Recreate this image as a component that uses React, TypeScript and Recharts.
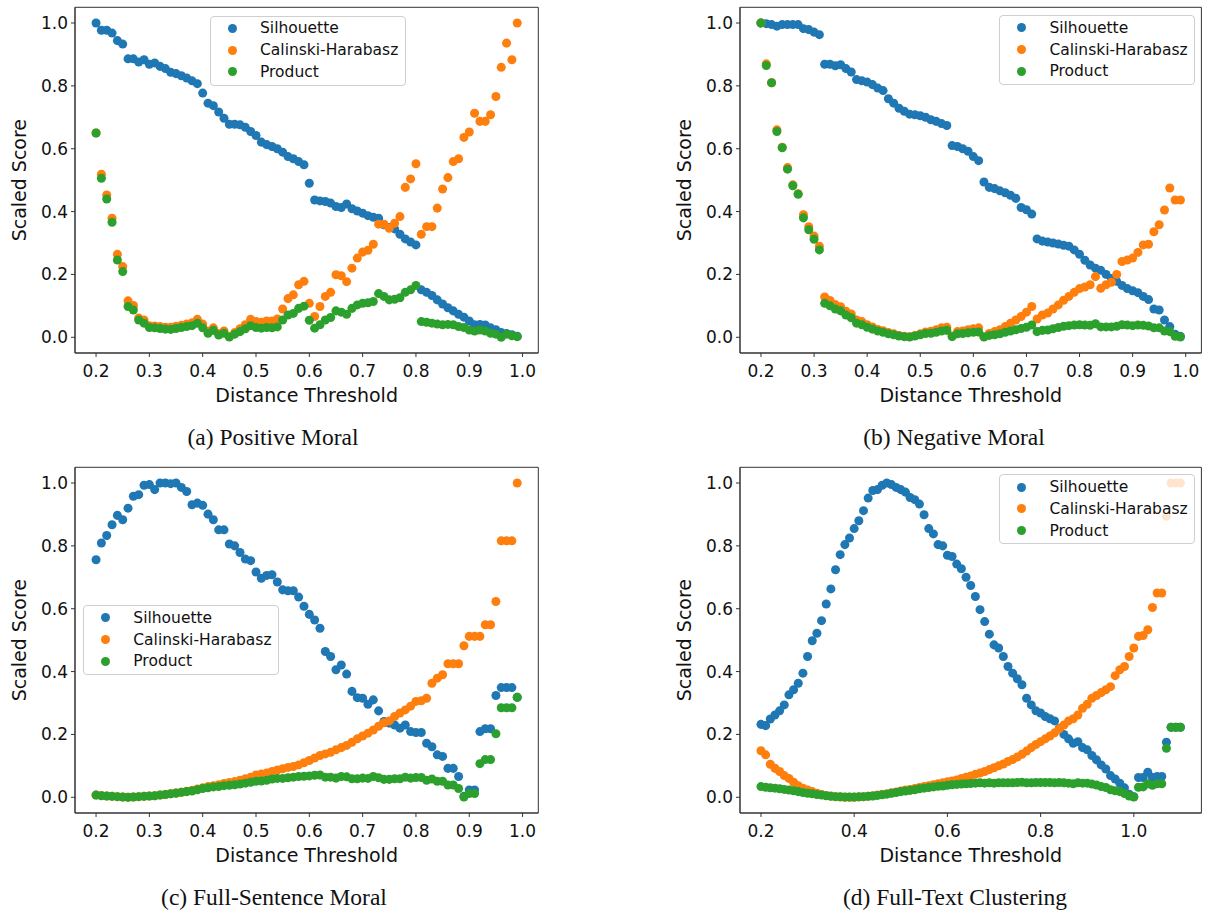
import React from "react";
import { ScatterChart, Scatter, XAxis, YAxis, ZAxis, Legend, ReferenceArea } from "recharts";

// distance thresholds (x values)
const THRESH = [
  0.2, 0.21, 0.22, 0.23, 0.24, 0.25, 0.26, 0.27, 0.28, 0.29,
  0.3, 0.31, 0.32, 0.33, 0.34, 0.35, 0.36, 0.37, 0.38, 0.39,
  0.4, 0.41, 0.42, 0.43, 0.44, 0.45, 0.46, 0.47, 0.48, 0.49,
  0.5, 0.51, 0.52, 0.53, 0.54, 0.55, 0.56, 0.57, 0.58, 0.59,
  0.6, 0.61, 0.62, 0.63, 0.64, 0.65, 0.66, 0.67, 0.68, 0.69,
  0.7, 0.71, 0.72, 0.73, 0.74, 0.75, 0.76, 0.77, 0.78, 0.79,
  0.8, 0.81, 0.82, 0.83, 0.84, 0.85, 0.86, 0.87, 0.88, 0.89,
  0.9, 0.91, 0.92, 0.93, 0.94, 0.95, 0.96, 0.97, 0.98, 0.99,
];
const THRESH_TEXT = [
  0.2, 0.21, 0.22, 0.23, 0.24, 0.25, 0.26, 0.27, 0.28, 0.29,
  0.3, 0.31, 0.32, 0.33, 0.34, 0.35, 0.36, 0.37, 0.38, 0.39,
  0.4, 0.41, 0.42, 0.43, 0.44, 0.45, 0.46, 0.47, 0.48, 0.49,
  0.5, 0.51, 0.52, 0.53, 0.54, 0.55, 0.56, 0.57, 0.58, 0.59,
  0.6, 0.61, 0.62, 0.63, 0.64, 0.65, 0.66, 0.67, 0.68, 0.69,
  0.7, 0.71, 0.72, 0.73, 0.74, 0.75, 0.76, 0.77, 0.78, 0.79,
  0.8, 0.81, 0.82, 0.83, 0.84, 0.85, 0.86, 0.87, 0.88, 0.89,
  0.9, 0.91, 0.92, 0.93, 0.94, 0.95, 0.96, 0.97, 0.98, 0.99,
  1.0, 1.01, 1.02, 1.03, 1.04, 1.05, 1.06, 1.07, 1.08, 1.09,
  1.1,
];

const TICKS_X = [0.2, 0.3, 0.4, 0.5, 0.6, 0.7, 0.8, 0.9, 1.0];
const TICKS_X_TEXT = [0.2, 0.4, 0.6, 0.8, 1.0];
const TICKS_Y = [0, 0.2, 0.4, 0.6, 0.8, 1.0];

const SERIES = ["Silhouette", "Calinski-Harabasz", "Product"];
const COLORS = ["#1f77b4", "#ff7f0e", "#2ca02c"];

// (a) Positive Moral
const SIL_A = [
  1.0, 0.977, 0.977, 0.968, 0.944, 0.933, 0.886, 0.886, 0.876, 0.883,
  0.869, 0.873, 0.862, 0.855, 0.843, 0.839, 0.832, 0.825, 0.816, 0.807,
  0.777, 0.745, 0.737, 0.717, 0.697, 0.678, 0.678, 0.676, 0.668, 0.655,
  0.642, 0.621, 0.613, 0.607, 0.6, 0.589, 0.575, 0.568, 0.559, 0.549,
  0.49, 0.437, 0.434, 0.432, 0.427, 0.416, 0.413, 0.424, 0.409, 0.402,
  0.395, 0.387, 0.382, 0.379, 0.358, 0.349, 0.345, 0.328, 0.313, 0.303,
  0.294, 0.151, 0.143, 0.133, 0.119, 0.106, 0.094, 0.084, 0.073, 0.064,
  0.052, 0.04, 0.041, 0.039, 0.03, 0.024, 0.015, 0.012, 0.008, 0.003,
];
const CH_A = [
  0.65, 0.519, 0.453, 0.379, 0.264, 0.225, 0.116, 0.101, 0.061, 0.055,
  0.037, 0.036, 0.034, 0.032, 0.032, 0.035, 0.038, 0.042, 0.046, 0.057,
  0.042, 0.02, 0.03, 0.012, 0.02, 0.002, 0.015, 0.027, 0.04, 0.057,
  0.05, 0.048, 0.052, 0.052, 0.058, 0.09, 0.123, 0.135, 0.167, 0.178,
  0.108, 0.066, 0.098, 0.13, 0.143, 0.199, 0.196, 0.177, 0.22, 0.252,
  0.271, 0.277, 0.296, 0.36, 0.36, 0.347, 0.363, 0.384, 0.477, 0.504,
  0.552, 0.328, 0.352, 0.352, 0.411, 0.472, 0.508, 0.559, 0.568, 0.636,
  0.653, 0.713, 0.687, 0.687, 0.708, 0.766, 0.859, 0.936, 0.883, 1.0,
];
const PROD_A = [
  0.65, 0.506, 0.44, 0.366, 0.246, 0.209, 0.098, 0.087, 0.055, 0.045,
  0.031, 0.03, 0.028, 0.026, 0.025, 0.028, 0.031, 0.034, 0.037, 0.045,
  0.03, 0.013, 0.022, 0.007, 0.013, 0.001, 0.01, 0.018, 0.027, 0.037,
  0.031, 0.029, 0.031, 0.03, 0.033, 0.055, 0.071, 0.076, 0.092, 0.099,
  0.054, 0.029, 0.04, 0.055, 0.063, 0.084, 0.08, 0.073, 0.092, 0.103,
  0.108, 0.11, 0.114, 0.139, 0.13, 0.119, 0.121, 0.126, 0.143, 0.151,
  0.165, 0.05, 0.048, 0.045, 0.042, 0.04, 0.041, 0.04, 0.034, 0.031,
  0.023, 0.02, 0.023, 0.02, 0.013, 0.01, 0.0, 0.01, 0.005, 0.002,
];

// (b) Negative Moral
const SIL_B = [
  1.0, 0.998, 0.995, 0.99, 0.995, 0.995, 0.995, 0.995, 0.982, 0.979,
  0.971, 0.963, 0.869, 0.869, 0.864, 0.867, 0.855, 0.844, 0.82, 0.816,
  0.812, 0.804, 0.793, 0.785, 0.759, 0.745, 0.729, 0.719, 0.71, 0.708,
  0.705, 0.7, 0.692, 0.687, 0.68, 0.674, 0.61, 0.607, 0.6, 0.592,
  0.575, 0.562, 0.494, 0.477, 0.473, 0.466, 0.46, 0.452, 0.442, 0.413,
  0.406, 0.392, 0.313, 0.306, 0.303, 0.3, 0.297, 0.293, 0.29, 0.278,
  0.264, 0.245, 0.23, 0.22, 0.213, 0.2, 0.187, 0.178, 0.165, 0.155,
  0.148, 0.142, 0.13, 0.12, 0.09, 0.087, 0.055, 0.034, 0.01, 0.003,
];
const CH_B = [
  1.0, 0.87, 0.81, 0.66, 0.605, 0.54, 0.485, 0.457, 0.39, 0.352,
  0.322, 0.29, 0.128, 0.117, 0.104, 0.097, 0.083, 0.074, 0.055, 0.05,
  0.04, 0.033, 0.025, 0.021, 0.015, 0.011, 0.006, 0.003, 0.002, 0.006,
  0.011, 0.017, 0.019, 0.024, 0.03, 0.032, 0.004, 0.018, 0.02, 0.024,
  0.027, 0.03, 0.002, 0.012, 0.018, 0.024, 0.034, 0.045, 0.055, 0.066,
  0.08, 0.098, 0.058, 0.071, 0.077, 0.09, 0.103, 0.118, 0.13, 0.143,
  0.155, 0.16, 0.167, 0.193, 0.156, 0.167, 0.175, 0.2, 0.241, 0.246,
  0.252, 0.27, 0.294, 0.296, 0.336, 0.358, 0.405, 0.475, 0.437, 0.437,
];
const PROD_B = [
  1.0, 0.865, 0.81, 0.655, 0.603, 0.535, 0.482, 0.455, 0.38, 0.342,
  0.312, 0.278, 0.108, 0.1, 0.09, 0.084, 0.071, 0.062, 0.045, 0.04,
  0.032, 0.026, 0.02, 0.016, 0.011, 0.008, 0.004, 0.002, 0.001, 0.004,
  0.008, 0.012, 0.013, 0.016, 0.02, 0.022, 0.002, 0.011, 0.012, 0.014,
  0.016, 0.017, 0.001, 0.006, 0.008, 0.011, 0.016, 0.02, 0.024, 0.028,
  0.032, 0.039, 0.018, 0.022, 0.023, 0.027, 0.031, 0.035, 0.037, 0.039,
  0.04, 0.039, 0.038, 0.043, 0.033, 0.033, 0.033, 0.035, 0.04, 0.039,
  0.037, 0.039, 0.038, 0.036, 0.03, 0.03, 0.02, 0.018, 0.003, 0.001,
];

// (c) Full-Sentence Moral
const SIL_C = [
  0.756, 0.809, 0.833, 0.867, 0.897, 0.883, 0.92, 0.958, 0.963, 0.993,
  0.995, 0.979, 1.0, 1.0, 0.998, 1.0, 0.986, 0.973, 0.931, 0.936,
  0.929, 0.901, 0.883, 0.851, 0.851, 0.806, 0.8, 0.779, 0.758, 0.753,
  0.717, 0.697, 0.706, 0.708, 0.685, 0.66, 0.657, 0.657, 0.637, 0.608,
  0.582, 0.564, 0.538, 0.464, 0.448, 0.406, 0.421, 0.392, 0.337, 0.317,
  0.315, 0.296, 0.31, 0.275, 0.241, 0.236, 0.23, 0.22, 0.23, 0.209,
  0.206, 0.206, 0.172, 0.161, 0.135, 0.13, 0.092, 0.092, 0.066, 0.003,
  0.023, 0.023, 0.209, 0.218, 0.218, 0.324, 0.349, 0.349, 0.349, 0.318,
];
const CH_C = [
  0.007, 0.006, 0.004, 0.003, 0.002, 0.001, 0.0, 0.001, 0.002, 0.003,
  0.004, 0.005, 0.007, 0.009, 0.011, 0.014, 0.016, 0.019, 0.022, 0.026,
  0.03, 0.034, 0.037, 0.04, 0.044, 0.047, 0.05, 0.054, 0.059, 0.064,
  0.071, 0.074, 0.077, 0.082, 0.087, 0.091, 0.095, 0.098, 0.103, 0.11,
  0.117, 0.125, 0.133, 0.138, 0.143, 0.151, 0.158, 0.165, 0.175, 0.186,
  0.195, 0.204, 0.214, 0.226, 0.237, 0.243, 0.257, 0.268, 0.278, 0.29,
  0.305, 0.307, 0.315, 0.363, 0.379, 0.39, 0.425, 0.425, 0.425, 0.482,
  0.512, 0.512, 0.512, 0.549, 0.549, 0.623, 0.816, 0.816, 0.816, 1.0,
];
const PROD_C = [
  0.007, 0.005, 0.004, 0.003, 0.002, 0.001, 0.0, 0.001, 0.002, 0.003,
  0.004, 0.005, 0.007, 0.009, 0.011, 0.013, 0.016, 0.018, 0.02, 0.024,
  0.028, 0.03, 0.033, 0.034, 0.037, 0.038, 0.04, 0.042, 0.045, 0.048,
  0.051, 0.052, 0.054, 0.058, 0.06, 0.06, 0.062, 0.064, 0.066, 0.067,
  0.068, 0.07, 0.071, 0.064, 0.064, 0.061, 0.066, 0.065, 0.059, 0.059,
  0.061, 0.06, 0.066, 0.062, 0.057, 0.057, 0.059, 0.059, 0.064, 0.061,
  0.063, 0.063, 0.054, 0.058, 0.051, 0.051, 0.039, 0.039, 0.028, 0.001,
  0.012, 0.012, 0.107, 0.12, 0.12, 0.202, 0.285, 0.285, 0.285, 0.318,
];

// (d) Full-Text Clustering
const SIL_D = [
  0.232, 0.228, 0.249, 0.262, 0.275, 0.294, 0.326, 0.342, 0.363, 0.395,
  0.448, 0.498, 0.522, 0.562, 0.615, 0.663, 0.724, 0.772, 0.804, 0.825,
  0.855, 0.88, 0.912, 0.952, 0.976, 0.979, 0.993, 1.0, 0.995, 0.986,
  0.979, 0.971, 0.954, 0.947, 0.933, 0.899, 0.855, 0.838, 0.804, 0.8,
  0.77, 0.766, 0.742, 0.727, 0.7, 0.674, 0.639, 0.597, 0.559, 0.519,
  0.485, 0.475, 0.448, 0.416, 0.395, 0.377, 0.358, 0.315, 0.294, 0.275,
  0.268, 0.257, 0.25, 0.243, 0.22, 0.2, 0.186, 0.172, 0.177, 0.158,
  0.151, 0.133, 0.119, 0.103, 0.09, 0.069, 0.058, 0.045, 0.03, 0.01,
  0.002, 0.063, 0.063, 0.08, 0.063, 0.066, 0.066, 0.175, 0.223, 0.223,
  0.223,
];
const CH_D = [
  0.148, 0.135, 0.105, 0.092, 0.082, 0.069, 0.06, 0.048, 0.037, 0.029,
  0.023, 0.018, 0.013, 0.009, 0.006, 0.004, 0.002, 0.001, 0.0, 0.0,
  0.0, 0.001, 0.002, 0.003, 0.005, 0.007, 0.009, 0.011, 0.014, 0.017,
  0.02, 0.023, 0.025, 0.028, 0.031, 0.034, 0.037, 0.04, 0.043, 0.046,
  0.049, 0.052, 0.055, 0.06, 0.064, 0.068, 0.073, 0.077, 0.082, 0.088,
  0.094, 0.1, 0.106, 0.114, 0.12, 0.128, 0.137, 0.147, 0.158, 0.168,
  0.177, 0.186, 0.195, 0.205, 0.218, 0.23, 0.243, 0.25, 0.262, 0.283,
  0.296, 0.315, 0.324, 0.333, 0.342, 0.352, 0.387, 0.406, 0.416, 0.448,
  0.475, 0.512, 0.515, 0.533, 0.604, 0.65, 0.65, 0.894, 1.0, 1.0,
  1.0,
];
const PROD_D = [
  0.034, 0.032, 0.03, 0.029, 0.027, 0.025, 0.023, 0.021, 0.018, 0.015,
  0.013, 0.011, 0.009, 0.007, 0.005, 0.003, 0.002, 0.002, 0.001, 0.001,
  0.001, 0.002, 0.002, 0.003, 0.004, 0.006, 0.008, 0.01, 0.013, 0.015,
  0.018, 0.02, 0.022, 0.024, 0.027, 0.029, 0.031, 0.033, 0.035, 0.036,
  0.038, 0.04, 0.041, 0.042, 0.043, 0.044, 0.045, 0.046, 0.045, 0.046,
  0.045, 0.046, 0.046, 0.046, 0.046, 0.047, 0.048, 0.046, 0.046, 0.047,
  0.047, 0.047, 0.047, 0.046, 0.047, 0.046, 0.045, 0.043, 0.046, 0.045,
  0.045, 0.042, 0.039, 0.034, 0.031, 0.024, 0.021, 0.018, 0.012, 0.004,
  0.001, 0.032, 0.033, 0.043, 0.038, 0.043, 0.043, 0.156, 0.223, 0.223,
  0.223,
];

const FONT = "DejaVu Sans";
const FRAME = "#333";

const toPoints = (xs: number[], ys: number[]) => xs.map((x, i) => ({ x, y: ys[i] }));

const XTitle = (props: any) => {
  const { viewBox } = props;
  return (
    <text x={viewBox.x + viewBox.width / 2} y={viewBox.y + 49} textAnchor="middle"
      fontSize={19} fontFamily={FONT} fill="#111">
      Distance Threshold
    </text>
  );
};

const YTitle = (props: any) => {
  const { viewBox } = props;
  const cx = viewBox.x + 26;
  const cy = viewBox.y + viewBox.height / 2;
  return (
    <text x={cx} y={cy} transform={`rotate(-90, ${cx}, ${cy})`} textAnchor="middle"
      fontSize={19} fontFamily={FONT} fill="#111">
      Scaled Score
    </text>
  );
};

const LegendBox = () => (
  <div style={{
    width: 196, height: 70, boxSizing: "border-box", border: "1px solid #cfcfcf",
    borderRadius: 4, background: "rgba(255,255,255,0.8)", paddingTop: 1,
  }}>
    {SERIES.map((name, i) => (
      <div key={name} style={{ display: "flex", alignItems: "center", height: 21.7 }}>
        <span style={{
          display: "inline-block", width: 9, height: 9, borderRadius: "50%",
          background: COLORS[i], marginLeft: 17, marginRight: 23,
        }} />
        <span style={{ fontFamily: FONT, fontSize: 15.5, color: "#111", lineHeight: "18px" }}>{name}</span>
      </div>
    ))}
  </div>
);

type PanelProps = {
  left: number;
  top: number;
  plotW: number;
  xs: number[];
  sil: number[];
  ch: number[];
  prod: number[];
  xDomain: [number, number];
  xTicks: number[];
  legendLeft: number;
  legendTop: number;
};

const Panel = ({ left, top, plotW, xs, sil, ch, prod, xDomain, xTicks, legendLeft, legendTop }: PanelProps) => {
  const series = [sil, ch, prod];
  const tick = { fill: "#111", fontSize: 17, fontFamily: FONT };
  return (
    <div style={{ position: "absolute", left, top }}>
      <ScatterChart width={75 + plotW + 5} height={413}
        margin={{ top: 7.3, right: 5, bottom: 0, left: 0 }}>
        <XAxis type="number" dataKey="x" domain={xDomain} ticks={xTicks}
          tickFormatter={(v: number) => v.toFixed(1)} height={60} tickSize={4} tickMargin={8}
          stroke={FRAME} tick={tick} allowDataOverflow label={{ content: XTitle }} />
        <YAxis type="number" dataKey="y" domain={[-0.05, 1.05]} ticks={TICKS_Y}
          tickFormatter={(v: number) => v.toFixed(1)} width={75} tickSize={4} tickMargin={3}
          stroke={FRAME} tick={tick} allowDataOverflow label={{ content: YTitle }} />
        <ZAxis range={[70, 70]} />
        {/* full axes frame, as in matplotlib */}
        <ReferenceArea x1={xDomain[0]} x2={xDomain[1]} y1={-0.05} y2={1.05}
          fill="none" fillOpacity={0} stroke={FRAME} strokeWidth={1} ifOverflow="visible" />
        {series.map((ys, i) => (
          <Scatter key={SERIES[i]} name={SERIES[i]} data={toPoints(xs, ys)} fill={COLORS[i]}
            isAnimationActive={false} />
        ))}
        <Legend layout="vertical" align="center" verticalAlign="middle"
          wrapperStyle={{ left: legendLeft, top: legendTop, width: "auto" }}
          content={() => <LegendBox />} />
      </ScatterChart>
    </div>
  );
};

const Caption = ({ text, cx, top }: { text: string; cx: number; top: number }) => (
  <div style={{
    position: "absolute", left: cx - 200, width: 400, top, textAlign: "center",
    fontFamily: "Liberation Serif", fontSize: 23.5, lineHeight: "23.5px", color: "#111",
  }}>
    {text}
  </div>
);

export default function App() {
  const domAC: [number, number] = [0.1605, 1.0295];
  const domD: [number, number] = [0.155, 1.145];
  return (
    <div style={{ position: "absolute", left: 0, top: 0, width: 1208, height: 915, background: "#fff" }}>
      <Panel left={0} top={0} plotW={463.3} xs={THRESH} sil={SIL_A} ch={CH_A} prod={PROD_A}
        xDomain={domAC} xTicks={TICKS_X} legendLeft={210} legendTop={15.5} />
      <Panel left={665.4} top={0} plotW={461.4} xs={THRESH} sil={SIL_B} ch={CH_B} prod={PROD_B}
        xDomain={domAC} xTicks={TICKS_X} legendLeft={334} legendTop={15} />
      <Panel left={0} top={460} plotW={463.3} xs={THRESH} sil={SIL_C} ch={CH_C} prod={PROD_C}
        xDomain={domAC} xTicks={TICKS_X} legendLeft={83.3} legendTop={145} />
      <Panel left={665.4} top={460} plotW={461.4} xs={THRESH_TEXT} sil={SIL_D} ch={CH_D} prod={PROD_D}
        xDomain={domD} xTicks={TICKS_X_TEXT} legendLeft={334} legendTop={14.3} />
      <Caption text="(a) Positive Moral" cx={273} top={426} />
      <Caption text="(b) Negative Moral" cx={954} top={426} />
      <Caption text="(c) Full-Sentence Moral" cx={274} top={886} />
      <Caption text="(d) Full-Text Clustering" cx={955} top={886} />
    </div>
  );
}
